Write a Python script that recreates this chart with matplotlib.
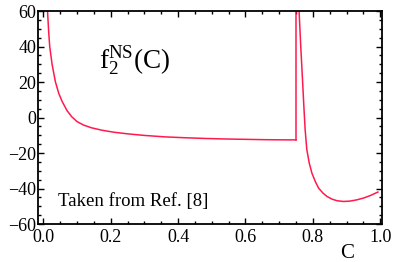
import matplotlib
matplotlib.use("Agg")
import matplotlib.pyplot as plt
from matplotlib.ticker import MultipleLocator

# Branch 1 (C < 0.75)
c1 = [0.0125, 0.016, 0.019, 0.026, 0.036, 0.046, 0.056, 0.070, 0.084, 0.100, 0.120, 0.143,
      0.175, 0.210, 0.250, 0.300, 0.360, 0.420, 0.480, 0.540, 0.600, 0.660, 0.720, 0.750]
f1 = [60.0, 48.0, 40.0, 30.0, 20.0, 13.5, 9.0, 4.0, 0.5, -2.3, -4.3, -5.8,
      -7.2, -8.3, -9.2, -10.1, -10.9, -11.4, -11.8, -12.1, -12.3, -12.5, -12.6, -12.6]
# Vertical jump at C = 0.75
c_jump = [0.750, 0.750]
f_jump = [-12.6, 60.0]
# Branch 2 (C > 0.75)
c2 = [0.759, 0.764, 0.769, 0.773, 0.777, 0.782, 0.789, 0.797, 0.807, 0.817, 0.830, 0.842,
      0.857, 0.872, 0.891, 0.910, 0.930, 0.950, 0.970, 0.993]
f2 = [60.0, 40.0, 22.0, 7.0, -6.8, -18.1, -25.5, -31.3, -36.0, -39.8, -42.6, -44.5,
      -46.0, -46.9, -47.3, -47.1, -46.4, -45.4, -44.0, -42.0]

xticks = [0.0, 0.2, 0.4, 0.6, 0.8, 1.0]
xtick_labels = ["0.0", "0.2", "0.4", "0.6", "0.8", "1.0"]
yticks = [-60, -40, -20, 0, 20, 40, 60]
ytick_labels = ["\u221260", "\u221240", "\u221220", "0", "20", "40", "60"]

plt.rcParams['font.family'] = ['Liberation Serif', 'DejaVu Serif']
plt.rcParams['mathtext.fontset'] = 'custom'
plt.rcParams['mathtext.rm'] = 'Liberation Serif'
plt.rcParams['mathtext.it'] = 'Liberation Serif'

fig = plt.figure(figsize=(3.95, 2.62), dpi=100)
ax = fig.add_axes([0.096, 0.145, 0.871, 0.813])

col = '#ff1a4d'
ax.plot(c1, f1, color=col, lw=1.1)
ax.plot(c_jump, f_jump, color=col, lw=1.1)
ax.plot(c2, f2, color=col, lw=1.1)

ax.set_xlim(-0.016, 1.005)
ax.set_ylim(-60, 60)
ax.set_xticks(xticks)
ax.set_xticklabels(xtick_labels)
ax.set_yticks(yticks)
ax.set_yticklabels(ytick_labels)
ax.xaxis.set_minor_locator(MultipleLocator(0.05))
ax.yaxis.set_minor_locator(MultipleLocator(5))
ax.tick_params(which='both', direction='in', top=True, right=True, labelsize=13, width=1.0)
ax.tick_params(axis='y', pad=1)
ax.tick_params(axis='x', pad=3.5)
ax.tick_params(which='major', length=4)
ax.tick_params(which='minor', length=2.2)
for s in ax.spines.values():
    s.set_linewidth(1.3)

ax.text(0.165, 31.5, r'$\mathrm{f}_{2}^{\mathrm{NS}}\mathrm{(C)}$', fontsize=19.5, ha='left', va='center')
ax.text(0.045, -47.5, 'Taken from Ref. [8]', fontsize=13.5, ha='left', va='center')
fig.text(347/395, 1 - 254/262, 'C', fontsize=15, ha='center', va='center')

fig.savefig('out.png', dpi=100)
